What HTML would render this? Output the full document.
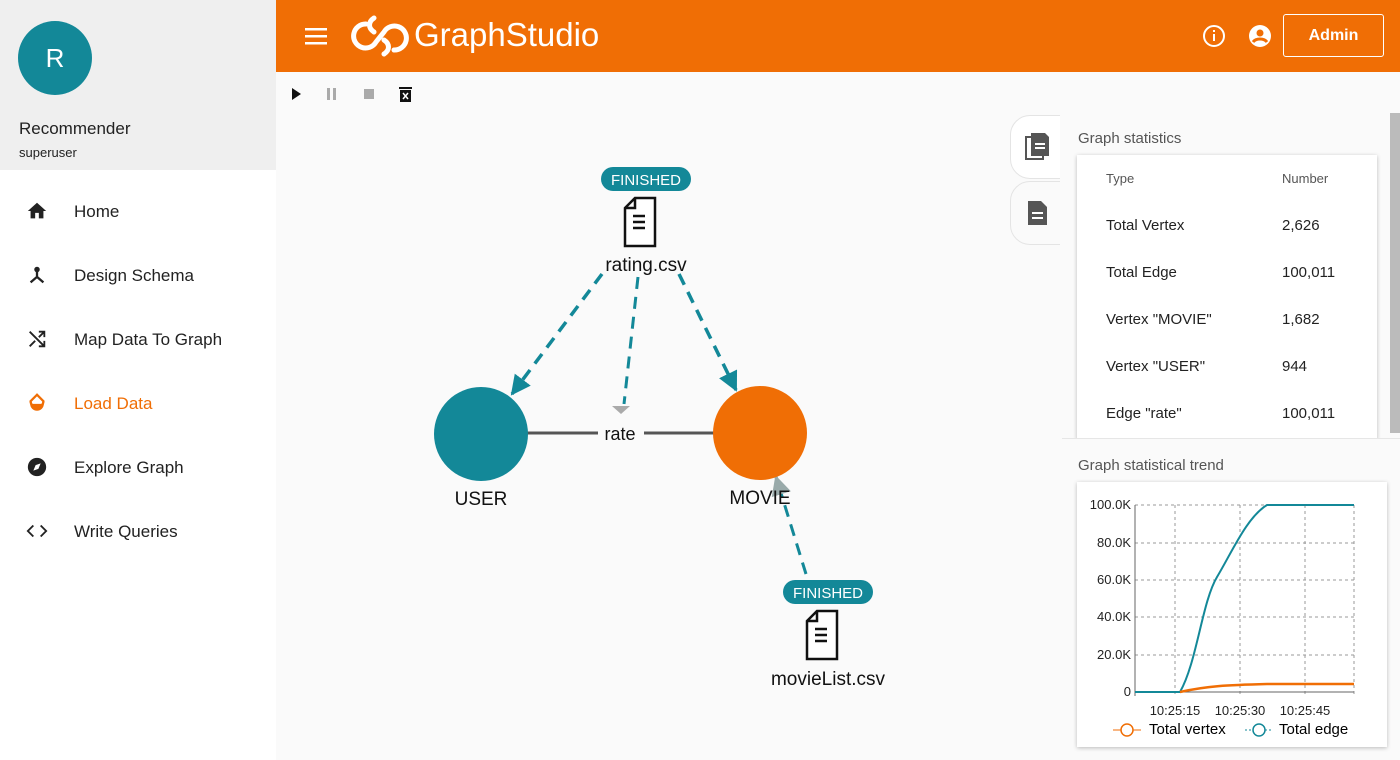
<!DOCTYPE html>
<html><head><meta charset="utf-8"><style>
*{margin:0;padding:0;box-sizing:border-box}
body{width:1400px;height:760px;overflow:hidden;font-family:"Liberation Sans",sans-serif;background:#fafafa;position:relative;color:#222}
.abs{position:absolute}
#side{left:0;top:0;width:276px;height:760px;background:#fff}
#sidehead{left:0;top:0;width:276px;height:170px;background:#efefef}
.nav{position:absolute;left:74px;font-size:17px;color:#222}
.ic{position:absolute;left:26px;width:22px;height:22px}
#top{left:276px;top:0;width:1124px;height:72px;background:#f06e05}
.row{position:absolute;left:1106px;font-size:15px;color:#222}
.num{position:absolute;left:1282px;font-size:15px;color:#222}
</style></head><body>
<div id="side" class="abs"></div>
<div id="sidehead" class="abs"></div>
<div class="abs" style="left:18px;top:21px;width:74px;height:74px;border-radius:50%;background:#138898;color:#fff;font-size:26px;text-align:center;line-height:74px">R</div>
<div class="abs" style="left:19px;top:119px;font-size:17px">Recommender</div>
<div class="abs" style="left:19px;top:145px;font-size:13px">superuser</div>
<svg class="ic" style="top:200px" viewBox="0 0 24 24"><path d="M10 20v-6h4v6h5v-8h3L12 3 2 12h3v8z" fill="#222"/></svg>
<div class="nav" style="top:202px">Home</div>
<svg class="ic" style="top:264px" viewBox="0 0 24 24"><circle cx="12" cy="6" r="3" fill="#222"/><path d="M12 8v6l-7 6M12 14l7 6" stroke="#222" stroke-width="2.5" fill="none"/></svg>
<div class="nav" style="top:266px">Design Schema</div>
<svg class="ic" style="top:328px" viewBox="0 0 24 24"><path d="M4 4l16 16M14 4h6v6M20 4L14 10M10 14l-6 6M20 14v6h-6" stroke="#222" stroke-width="2" fill="none"/></svg>
<div class="nav" style="top:330px">Map Data To Graph</div>
<svg class="ic" style="top:392px" viewBox="0 0 24 24"><path d="M12 3L5 10a7 7 0 1 0 14 0z" stroke="#f06e05" stroke-width="2.5" fill="none"/><path d="M4.5 13h15a7.5 7.5 0 0 1-15 0z" fill="#f06e05"/></svg>
<div class="nav" style="top:394px;color:#f06e05">Load Data</div>
<svg class="ic" style="top:456px" viewBox="0 0 24 24"><circle cx="12" cy="12" r="10" fill="#222"/><path d="M16 8l-2.5 6L8 16l2.5-6z" fill="#fff"/></svg>
<div class="nav" style="top:458px">Explore Graph</div>
<svg class="ic" style="top:520px" viewBox="0 0 24 24"><path d="M8 6l-6 6 6 6M16 6l6 6-6 6" stroke="#222" stroke-width="2" fill="none"/></svg>
<div class="nav" style="top:522px">Write Queries</div>

<div id="top" class="abs"></div>
<svg class="abs" style="left:305px;top:26px" width="24" height="20"><rect y="2" width="22" height="2.5" fill="#fff"/><rect y="9" width="22" height="2.5" fill="#fff"/><rect y="16" width="22" height="2.5" fill="#fff"/></svg>
<svg class="abs" style="left:348px;top:12px" width="62" height="48" viewBox="0 0 62 48"><path d="M18 12a12 12 0 1 0 10 18l8-10a12 12 0 1 1 10 18 M26 6c-6 4-6 10 0 14 M36 42c6-4 6-10 0-14" stroke="#fff" stroke-width="5" fill="none" stroke-linecap="round"/></svg>
<div class="abs" style="left:414px;top:16px;font-size:33px;color:#fff">GraphStudio</div>
<svg class="abs" style="left:1202px;top:24px" width="24" height="24"><circle cx="12" cy="12" r="10" stroke="#fff" stroke-width="2" fill="none"/><rect x="11" y="10" width="2" height="7" fill="#fff"/><rect x="11" y="6" width="2" height="2" fill="#fff"/></svg>
<svg class="abs" style="left:1248px;top:24px" width="24" height="24"><circle cx="12" cy="12" r="11" fill="#fff"/><circle cx="12" cy="9" r="3.5" fill="#f06e05"/><path d="M5 18c3-4 11-4 14 0" stroke="#f06e05" stroke-width="3" fill="none"/></svg>
<div class="abs" style="left:1283px;top:14px;width:101px;height:43px;border:1px solid #fff;border-radius:3px;color:#fff;font-size:16px;font-weight:bold;text-align:center;line-height:41px">Admin</div>

<svg class="abs" style="left:290px;top:86px" width="130" height="18"><path d="M2 2l9 6-9 6z" fill="#111"/><rect x="37" y="2" width="3" height="12" fill="#aaa"/><rect x="43" y="2" width="3" height="12" fill="#aaa"/><rect x="74" y="3" width="10" height="10" fill="#aaa"/><rect x="110" y="4" width="11" height="12" fill="#111"/><rect x="109" y="1" width="13" height="2" fill="#111"/><path d="M113 7l5 6M118 7l-5 6" stroke="#fff" stroke-width="1.5"/></svg>

<svg class="abs" style="left:276px;top:112px" width="740" height="648">
<defs>
<marker id="ah2" markerWidth="20" markerHeight="20" refX="18" refY="10" orient="auto" markerUnits="userSpaceOnUse"><path d="M0 0L20 10 0 20z" fill="#138898"/></marker>
<marker id="ag" markerWidth="20" markerHeight="20" refX="18" refY="10" orient="auto" markerUnits="userSpaceOnUse"><path d="M0 0L20 10 0 20z" fill="#9aa"/></marker></defs>
<line x1="250" y1="321" x2="440" y2="321" stroke="#555" stroke-width="3"/>
<rect x="322" y="308" width="46" height="26" fill="#fafafa"/>
<text x="344" y="328" font-size="18" text-anchor="middle" fill="#111">rate</text>
<path d="M326 162L236 282" stroke="#138898" stroke-width="3.5" stroke-dasharray="12 8" fill="none" marker-end="url(#ah2)"/>
<path d="M403 162L460 278" stroke="#138898" stroke-width="3.5" stroke-dasharray="12 8" fill="none" marker-end="url(#ah2)"/>
<path d="M362 165L348 292" stroke="#138898" stroke-width="3" stroke-dasharray="12 8" fill="none"/>
<path d="M336 294h18l-9 8z" fill="#aaa"/>
<path d="M530 462L500 365" stroke="#138898" stroke-width="3" stroke-dasharray="12 8" fill="none" marker-end="url(#ag)"/>
<circle cx="205" cy="322" r="47" fill="#138898"/>
<circle cx="484" cy="321" r="47" fill="#f06e05"/>
<text x="205" y="393" font-size="19" text-anchor="middle" fill="#111">USER</text>
<text x="484" y="392" font-size="19" text-anchor="middle" fill="#111">MOVIE</text>
<rect x="325" y="55" width="90" height="24" rx="12" fill="#138898"/>
<text x="370" y="73" font-size="15" text-anchor="middle" fill="#fff">FINISHED</text>
<path d="M359 86h20v48h-30v-38z M349 96h10v-10" stroke="#111" stroke-width="2.5" fill="#fff"/>
<path d="M357 104h12M357 110h12M357 116h12" stroke="#111" stroke-width="2.5"/>
<text x="370" y="159" font-size="19" text-anchor="middle" fill="#111">rating.csv</text>
<rect x="507" y="468" width="90" height="24" rx="12" fill="#138898"/>
<text x="552" y="486" font-size="15" text-anchor="middle" fill="#fff">FINISHED</text>
<path d="M541 499h20v48h-30v-38z M531 509h10v-10" stroke="#111" stroke-width="2.5" fill="#fff"/>
<path d="M539 517h12M539 523h12M539 529h12" stroke="#111" stroke-width="2.5"/>
<text x="552" y="573" font-size="19" text-anchor="middle" fill="#111">movieList.csv</text>
</svg>

<div class="abs" style="left:1010px;top:115px;width:80px;height:64px;border:1px solid #e4e4e4;border-radius:20px 0 0 20px;background:#fff"></div>
<div class="abs" style="left:1010px;top:181px;width:80px;height:64px;border:1px solid #e4e4e4;border-radius:20px 0 0 20px;background:#fafafa"></div>
<svg class="abs" style="left:1025px;top:132px" width="26" height="30"><rect x="1" y="5" width="17" height="22" fill="none" stroke="#555" stroke-width="2"/><path d="M6 1h14l4 4v19H6z" fill="#555"/><path d="M10 12h10M10 16h10" stroke="#fff" stroke-width="2"/></svg>
<svg class="abs" style="left:1027px;top:200px" width="22" height="26"><path d="M1 1h13l6 6v18H1z" fill="#555"/><path d="M5 13h11M5 18h11" stroke="#fff" stroke-width="2"/></svg>
<div class="abs" style="left:1060px;top:113px;width:330px;height:325px;background:#fafafa"></div>
<div class="abs" style="left:1078px;top:130px;font-size:15px;color:#555">Graph statistics</div>
<div class="abs" style="left:1077px;top:155px;width:300px;height:285px;background:#fff;box-shadow:0 1px 4px rgba(0,0,0,.25)"></div>
<div class="row" style="top:171px;font-size:13px;color:#555">Type</div><div class="num" style="top:171px;font-size:13px;color:#555">Number</div>
<div class="row" style="top:217px">Total Vertex</div><div class="num" style="top:217px">2,626</div>
<div class="row" style="top:264px">Total Edge</div><div class="num" style="top:264px">100,011</div>
<div class="row" style="top:311px">Vertex "MOVIE"</div><div class="num" style="top:311px">1,682</div>
<div class="row" style="top:358px">Vertex "USER"</div><div class="num" style="top:358px">944</div>
<div class="row" style="top:405px">Edge "rate"</div><div class="num" style="top:405px">100,011</div>
<div class="abs" style="left:1390px;top:113px;width:10px;height:320px;background:#bbb"></div>
<div class="abs" style="left:1062px;top:438px;width:338px;height:322px;background:#fafafa;border-top:1px solid #e6e6e6"></div>
<div class="abs" style="left:1078px;top:457px;font-size:15px;color:#555">Graph statistical trend</div>
<div class="abs" style="left:1077px;top:482px;width:310px;height:265px;background:#fff;box-shadow:0 1px 4px rgba(0,0,0,.25)"></div>
<svg class="abs" style="left:1077px;top:482px" width="310" height="265">
<g stroke="#999" stroke-dasharray="3 3" stroke-width="1">
<line x1="58" y1="23" x2="277" y2="23"/><line x1="58" y1="61" x2="277" y2="61"/><line x1="58" y1="98" x2="277" y2="98"/><line x1="58" y1="135" x2="277" y2="135"/><line x1="58" y1="173" x2="277" y2="173"/>
<line x1="98" y1="23" x2="98" y2="214"/><line x1="163" y1="23" x2="163" y2="214"/><line x1="228" y1="23" x2="228" y2="214"/><line x1="277" y1="23" x2="277" y2="214"/></g>
<line x1="58" y1="23" x2="58" y2="214" stroke="#666"/><line x1="58" y1="210" x2="277" y2="210" stroke="#666"/>
<g font-size="13" fill="#222" text-anchor="end"><text x="54" y="27">100.0K</text><text x="54" y="65">80.0K</text><text x="54" y="102">60.0K</text><text x="54" y="139">40.0K</text><text x="54" y="177">20.0K</text><text x="54" y="214">0</text></g>
<g font-size="13" fill="#222" text-anchor="middle"><text x="98" y="233">10:25:15</text><text x="163" y="233">10:25:30</text><text x="228" y="233">10:25:45</text></g>
<path d="M58 210H103C120 180 125 120 140 95S170 35 190 23H277" stroke="#138898" stroke-width="2" fill="none"/>
<path d="M103 210C130 204 150 203 190 202H277" stroke="#f06e05" stroke-width="2.5" fill="none"/>
<line x1="36" y1="248" x2="64" y2="248" stroke="#f06e05"/><circle cx="50" cy="248" r="6" fill="#fff" stroke="#f06e05" stroke-width="1.5"/>
<text x="72" y="252" font-size="15">Total vertex</text>
<line x1="168" y1="248" x2="196" y2="248" stroke="#138898" stroke-dasharray="2 2"/><circle cx="182" cy="248" r="6" fill="#fff" stroke="#138898" stroke-width="1.5"/>
<text x="202" y="252" font-size="15">Total edge</text>
</svg>
</body></html>
